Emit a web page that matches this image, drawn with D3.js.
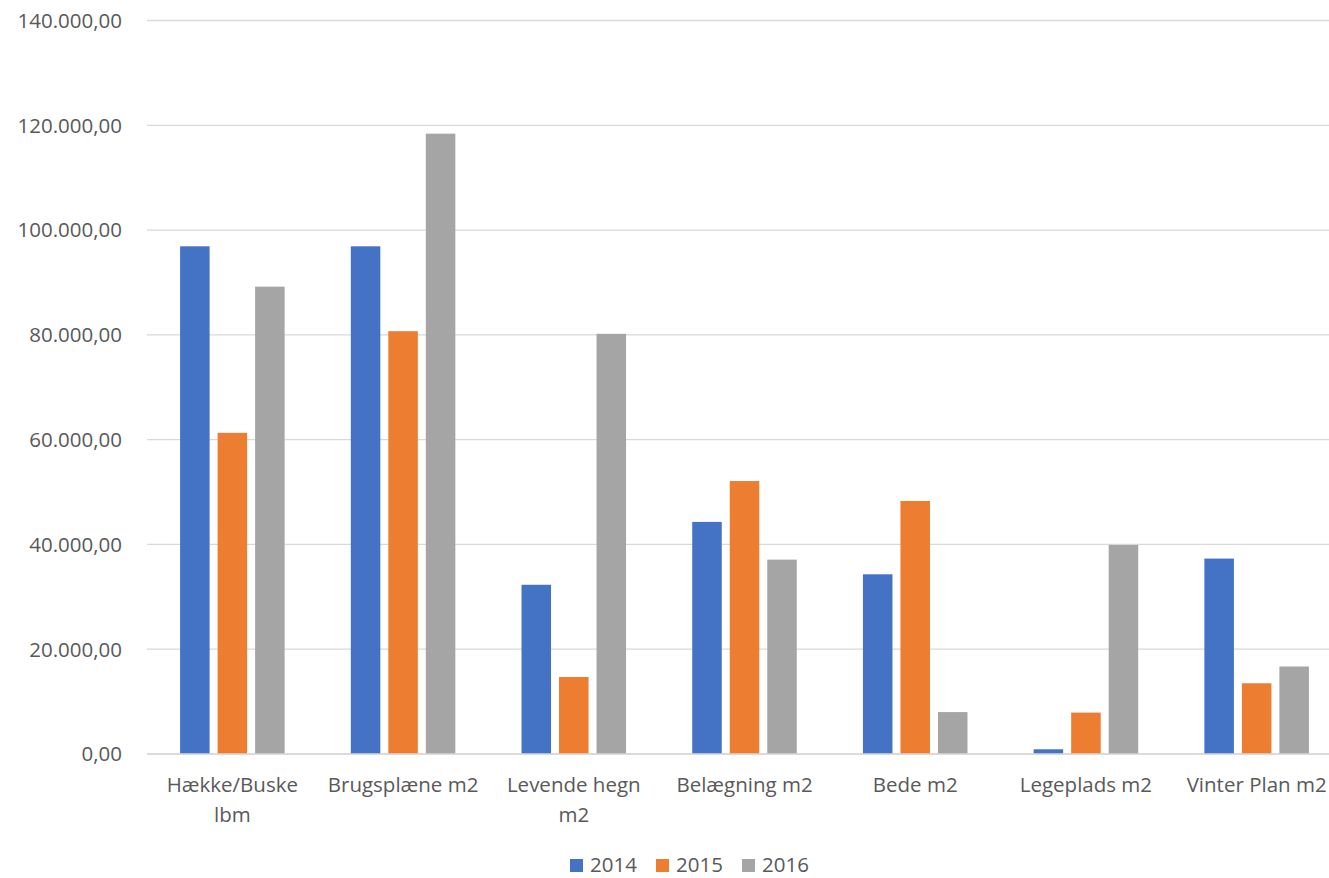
<!DOCTYPE html>
<html><head><meta charset="utf-8">
<script src="https://cdn.jsdelivr.net/npm/d3@7"></script>
<style>
html,body{margin:0;padding:0;background:#fff;overflow:hidden;}
text{font-family:"Open Sans","Noto Sans",sans-serif;fill:#595959;}
</style></head>
<body><svg id="chart" width="1329" height="878"></svg>
<script>
const categories = ["Hække/Buske lbm","Brugsplæne m2","Levende hegn m2","Belægning m2","Bede m2","Legeplads m2","Vinter Plan m2"];
const seriesNames = ["2014","2015","2016"];
const values2014 = [96900, 96900, 32300, 44300, 34300, 900, 37300];
const values2015 = [61300, 80700, 14700, 52100, 48300, 7900, 13500];
const values2016 = [89200, 118400, 80200, 37100, 8000, 39900, 16700];
const colors = ["#4472c4","#ed7d31","#a5a5a5"];
const yTicks = [0,20000,40000,60000,80000,100000,120000,140000];

(function(){
const seriesValues = [values2014, values2015, values2016];
const data = categories.map((c,i)=>({cat:c, vals: seriesNames.map((s,j)=>({s, v: seriesValues[j][i]}))}));

const svg = d3.select("#chart");
const mLeft = 147, mRight = 1342, mTop = 20.5, mBottom = 754;
const fs = 20.5;

const y = d3.scaleLinear().domain([0,140000]).range([mBottom, mTop]);
const x0 = d3.scaleBand().domain(categories).range([mLeft, mRight]).padding(0);
const x1 = d3.scaleBand().domain(seriesNames).range([0, x0.bandwidth()]).paddingInner(0.213).paddingOuter(0.882);

const fmt = v => {
  const s = d3.format(",.2f")(v);
  return s.replace(/,/g,"#").replace(/\./g,",").replace(/#/g,".");
};

svg.append("g").selectAll("line").data(yTicks).join("line")
  .attr("x1", mLeft).attr("x2", mRight)
  .attr("y1", d=>y(d)).attr("y2", d=>y(d))
  .attr("stroke", "#d9d9d9").attr("stroke-width", 1.3);

svg.append("g").selectAll("text").data(yTicks).join("text")
  .attr("x", 122).attr("y", d=>y(d)).attr("dy","0.36em")
  .attr("text-anchor","end").attr("font-size", fs)
  .text(d=>fmt(d));

const g = svg.append("g").selectAll("g").data(data).join("g")
  .attr("transform", d=>`translate(${x0(d.cat)},0)`);
g.selectAll("rect").data(d=>d.vals).join("rect")
  .attr("x", d=>x1(d.s)).attr("width", x1.bandwidth())
  .attr("y", d=>y(d.v)).attr("height", d=>mBottom - y(d.v))
  .attr("fill", (d,i)=>colors[i]);

svg.append("line").attr("x1", mLeft).attr("x2", mRight).attr("y1", y(0)).attr("y2", y(0))
  .attr("stroke","#d9d9d9").attr("stroke-width",1.5);

const maxW = 158;
const xl = svg.append("g");
categories.forEach(c=>{
  const cx = x0(c) + x0.bandwidth()/2;
  const t = xl.append("text").attr("x", cx).attr("y", 792).attr("text-anchor","middle").attr("font-size",fs);
  const words = c.split(" ");
  let lines = [], cur = [];
  const probe = xl.append("text").attr("font-size",fs).style("visibility","hidden");
  words.forEach(w=>{
    const test = cur.concat([w]).join(" ");
    probe.text(test);
    if (probe.node().getComputedTextLength() > maxW && cur.length) { lines.push(cur.join(" ")); cur=[w]; }
    else cur.push(w);
  });
  lines.push(cur.join(" "));
  probe.remove();
  lines.forEach((l,i)=>{
    t.append("tspan").attr("x", cx).attr("y", 792 + i*30).text(l);
  });
});

const legX = [570, 656, 742];
const lg = svg.append("g");
seriesNames.forEach((s,i)=>{
  lg.append("rect").attr("x", legX[i]).attr("y", 859).attr("width",13).attr("height",13).attr("fill", colors[i]);
  lg.append("text").attr("x", legX[i]+20).attr("y", 872).attr("font-size",fs).text(s);
});
})();
</script></body></html>
